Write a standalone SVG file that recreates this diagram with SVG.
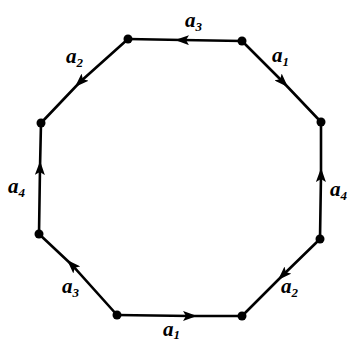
<svg xmlns="http://www.w3.org/2000/svg" width="352" height="344" viewBox="0 0 352 344">
<style>
.e{fill:none;stroke:#000;stroke-width:2.6;marker-mid:url(#ah)}
.v{fill:#000}
.l{font-family:"Liberation Serif",serif;font-weight:bold;font-style:italic;font-size:21px;fill:#000}
.s{font-size:13px}
</style>
<defs>
<marker id="ah" viewBox="0 0 14 10" refX="7" refY="5" markerWidth="14" markerHeight="10" markerUnits="userSpaceOnUse" orient="auto">
<path d="M0,0 L14,5 L0,10 L3,5 Z" fill="#000"/>
</marker>
</defs>
<rect width="352" height="344" fill="#fff"/>
<g id="connectors">
<path class="e" d="M242,41 L182,40 L128,39"/>
<path class="e" d="M242,41 L283,82 L321,122"/>
<path class="e" d="M320,239 L321,175 L321,122"/>
<path class="e" d="M320,239 L283,275 L242,316"/>
<path class="e" d="M117,315 L190,316 L242,316"/>
<path class="e" d="M117,315 L72,265 L39,234"/>
<path class="e" d="M39,234 L40,168 L41,123"/>
<path class="e" d="M128,39 L80,82 L41,123"/>
</g>
<g id="n1"><circle class="v" cx="128" cy="39" r="4.5"/></g>
<g id="n2"><circle class="v" cx="242" cy="41" r="4.5"/></g>
<g id="n3"><circle class="v" cx="321" cy="122" r="4.5"/></g>
<g id="n4"><circle class="v" cx="320" cy="239" r="4.5"/></g>
<g id="n5"><circle class="v" cx="242" cy="316" r="4.5"/></g>
<g id="n6"><circle class="v" cx="117" cy="315" r="4.5"/></g>
<g id="n7"><circle class="v" cx="39" cy="234" r="4.5"/></g>
<g id="n8"><circle class="v" cx="41" cy="123" r="4.5"/></g>
<g id="labels">
<text class="l" x="185" y="27">a<tspan class="s" dy="4">3</tspan></text>
<text class="l" x="272" y="62">a<tspan class="s" dy="4">1</tspan></text>
<text class="l" x="330" y="196">a<tspan class="s" dy="4">4</tspan></text>
<text class="l" x="281" y="293">a<tspan class="s" dy="4">2</tspan></text>
<text class="l" x="163" y="336">a<tspan class="s" dy="3">1</tspan></text>
<text class="l" x="62" y="293">a<tspan class="s" dy="4">3</tspan></text>
<text class="l" x="8" y="193">a<tspan class="s" dy="4">4</tspan></text>
<text class="l" x="66" y="63">a<tspan class="s" dy="4">2</tspan></text>
</g>
</svg>
